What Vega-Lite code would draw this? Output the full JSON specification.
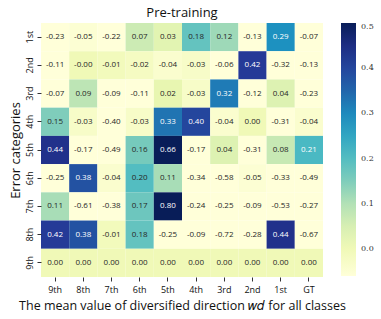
{
  "$schema": "https://vega.github.io/schema/vega-lite/v6.json",
  "width": 282,
  "height": 254,
  "autosize": {"type": "none"},
  "padding": {"left": 41, "top": 23, "right": 58, "bottom": 42},
  "background": "white",
  "config": {"view": {"stroke": null}, "font": "Open Sans"},
  "title": {"text": "Pre-training", "fontSize": 13, "fontWeight": "normal", "font": "Open Sans", "color": "#111", "offset": 3, "anchor": "middle"},
  "data": {"values": [
    {"r": "1st", "c": "9th", "v": -0.23}, {"r": "1st", "c": "8th", "v": -0.05}, {"r": "1st", "c": "7th", "v": -0.22}, {"r": "1st", "c": "6th", "v": 0.07}, {"r": "1st", "c": "5th", "v": 0.03}, {"r": "1st", "c": "4th", "v": 0.18}, {"r": "1st", "c": "3rd", "v": 0.12}, {"r": "1st", "c": "2nd", "v": -0.13}, {"r": "1st", "c": "1st", "v": 0.29}, {"r": "1st", "c": "GT", "v": -0.07},
    {"r": "2nd", "c": "9th", "v": -0.11}, {"r": "2nd", "c": "8th", "v": -0.0}, {"r": "2nd", "c": "7th", "v": -0.01}, {"r": "2nd", "c": "6th", "v": -0.02}, {"r": "2nd", "c": "5th", "v": -0.04}, {"r": "2nd", "c": "4th", "v": -0.03}, {"r": "2nd", "c": "3rd", "v": -0.06}, {"r": "2nd", "c": "2nd", "v": 0.42}, {"r": "2nd", "c": "1st", "v": -0.32}, {"r": "2nd", "c": "GT", "v": -0.13},
    {"r": "3rd", "c": "9th", "v": -0.07}, {"r": "3rd", "c": "8th", "v": 0.09}, {"r": "3rd", "c": "7th", "v": -0.09}, {"r": "3rd", "c": "6th", "v": -0.11}, {"r": "3rd", "c": "5th", "v": 0.02}, {"r": "3rd", "c": "4th", "v": -0.03}, {"r": "3rd", "c": "3rd", "v": 0.32}, {"r": "3rd", "c": "2nd", "v": -0.12}, {"r": "3rd", "c": "1st", "v": 0.04}, {"r": "3rd", "c": "GT", "v": -0.23},
    {"r": "4th", "c": "9th", "v": 0.15}, {"r": "4th", "c": "8th", "v": -0.03}, {"r": "4th", "c": "7th", "v": -0.40}, {"r": "4th", "c": "6th", "v": -0.03}, {"r": "4th", "c": "5th", "v": 0.33}, {"r": "4th", "c": "4th", "v": 0.40}, {"r": "4th", "c": "3rd", "v": -0.04}, {"r": "4th", "c": "2nd", "v": 0.00}, {"r": "4th", "c": "1st", "v": -0.31}, {"r": "4th", "c": "GT", "v": -0.04},
    {"r": "5th", "c": "9th", "v": 0.44}, {"r": "5th", "c": "8th", "v": -0.17}, {"r": "5th", "c": "7th", "v": -0.49}, {"r": "5th", "c": "6th", "v": 0.16}, {"r": "5th", "c": "5th", "v": 0.66}, {"r": "5th", "c": "4th", "v": -0.17}, {"r": "5th", "c": "3rd", "v": 0.04}, {"r": "5th", "c": "2nd", "v": -0.31}, {"r": "5th", "c": "1st", "v": 0.08}, {"r": "5th", "c": "GT", "v": 0.21},
    {"r": "6th", "c": "9th", "v": -0.25}, {"r": "6th", "c": "8th", "v": 0.38}, {"r": "6th", "c": "7th", "v": -0.04}, {"r": "6th", "c": "6th", "v": 0.20}, {"r": "6th", "c": "5th", "v": 0.11}, {"r": "6th", "c": "4th", "v": -0.34}, {"r": "6th", "c": "3rd", "v": -0.58}, {"r": "6th", "c": "2nd", "v": -0.05}, {"r": "6th", "c": "1st", "v": -0.33}, {"r": "6th", "c": "GT", "v": -0.49},
    {"r": "7th", "c": "9th", "v": 0.11}, {"r": "7th", "c": "8th", "v": -0.61}, {"r": "7th", "c": "7th", "v": -0.38}, {"r": "7th", "c": "6th", "v": 0.17}, {"r": "7th", "c": "5th", "v": 0.80}, {"r": "7th", "c": "4th", "v": -0.24}, {"r": "7th", "c": "3rd", "v": -0.25}, {"r": "7th", "c": "2nd", "v": -0.09}, {"r": "7th", "c": "1st", "v": -0.53}, {"r": "7th", "c": "GT", "v": -0.27},
    {"r": "8th", "c": "9th", "v": 0.42}, {"r": "8th", "c": "8th", "v": 0.38}, {"r": "8th", "c": "7th", "v": -0.01}, {"r": "8th", "c": "6th", "v": 0.18}, {"r": "8th", "c": "5th", "v": -0.25}, {"r": "8th", "c": "4th", "v": -0.09}, {"r": "8th", "c": "3rd", "v": -0.72}, {"r": "8th", "c": "2nd", "v": -0.28}, {"r": "8th", "c": "1st", "v": 0.44}, {"r": "8th", "c": "GT", "v": -0.67},
    {"r": "9th", "c": "9th", "v": 0.00}, {"r": "9th", "c": "8th", "v": 0.00}, {"r": "9th", "c": "7th", "v": 0.00}, {"r": "9th", "c": "6th", "v": 0.00}, {"r": "9th", "c": "5th", "v": 0.00}, {"r": "9th", "c": "4th", "v": 0.00}, {"r": "9th", "c": "3rd", "v": 0.00}, {"r": "9th", "c": "2nd", "v": 0.00}, {"r": "9th", "c": "1st", "v": 0.00}, {"r": "9th", "c": "GT", "v": 0.00}
  ]},
  "transform": [
    {"calculate": "(datum.v == 0 && 1/datum.v < 0) ? '-0.00' : replace(format(datum.v, '.2f'), '\u2212', '-')", "as": "lab"}
  ],
  "encoding": {
    "x": {"field": "c", "type": "ordinal", "sort": ["9th", "8th", "7th", "6th", "5th", "4th", "3rd", "2nd", "1st", "GT"],
      "scale": {"paddingInner": 0, "paddingOuter": 0},
      "axis": {"title": "The mean value of diversified direction 𝑤𝑑 for all classes", "titleFontSize": 12.5, "titleFontWeight": "normal", "titleColor": "#111", "titlePadding": 5, "labelAngle": 0, "labelFontSize": 9, "labelColor": "#111", "labelPadding": 4, "tickSize": 4, "tickColor": "#333", "domain": false}},
    "y": {"field": "r", "type": "ordinal", "sort": ["1st", "2nd", "3rd", "4th", "5th", "6th", "7th", "8th", "9th"],
      "scale": {"paddingInner": 0, "paddingOuter": 0},
      "axis": {"title": "Error categories", "titleFontSize": 13, "titleFontWeight": "normal", "titleColor": "#111", "titlePadding": 3, "labelAngle": -90, "labelAlign": "center", "labelBaseline": "bottom", "labelFontSize": 9, "labelColor": "#111", "labelPadding": 3, "tickSize": 4, "tickColor": "#333", "domain": false}}
  },
  "layer": [
    {"mark": {"type": "rect"},
      "encoding": {"color": {"field": "v", "type": "quantitative",
        "scale": {"range": ["#ffffd9", "#edf8b1", "#c7e9b4", "#7fcdbb", "#41b6c4", "#1d91c0", "#225ea8", "#253494", "#081d58"], "domain": [-0.06, 0.5], "clamp": true, "interpolate": "rgb"},
        "legend": {"title": null, "orient": "right", "offset": 18, "gradientLength": 253, "gradientThickness": 15, "values": [0, 0.1, 0.2, 0.3, 0.4, 0.5], "format": ".1f", "labelFont": "DejaVu Serif", "labelFontSize": 8, "labelColor": "#333", "labelOffset": 5, "gradientStrokeWidth": 0}}}},
    {"mark": {"type": "text", "fontSize": 8, "font": "Open Sans"},
      "encoding": {"text": {"field": "lab"},
        "color": {"condition": {"test": "datum.v > 0.205", "value": "white"}, "value": "#262626"}}}
  ]
}
